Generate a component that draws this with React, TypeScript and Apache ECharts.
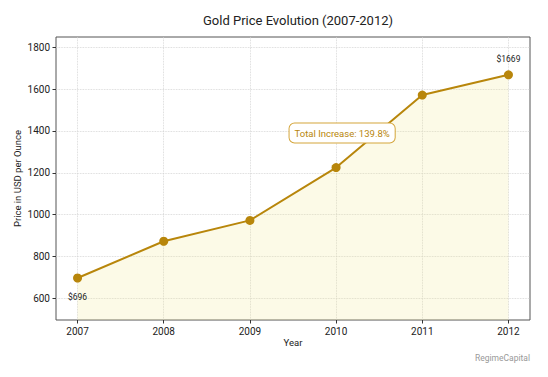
import React, { useEffect, useRef } from "react";
import * as echarts from "echarts";

const years = [2007, 2008, 2009, 2010, 2011, 2012];
const prices = [696, 872, 972, 1225, 1572, 1669];
const yTickValues = [600, 800, 1000, 1200, 1400, 1600, 1800];
const titleText = "Gold Price Evolution (2007-2012)";
const xName = "Year";
const yName = "Price in USD per Ounce";
const annotationText = "Total Increase: 139.8%";
const annotationAt = [2010.07, 1390];
const watermark = "RegimeCapital";

const GOLD = "#b8860b";
const FONT = "Roboto, 'Noto Sans', sans-serif";

export default function App() {
  const ref = useRef<HTMLDivElement>(null);
  useEffect(() => {
    if (!ref.current) return;
    const chart = echarts.init(ref.current, undefined, { renderer: "svg" });
    const lastIdx = years.length - 1;
    const data = years.map((y, i) => {
      const item: any = { value: [y, prices[i]] };
      if (i === 0) {
        item.label = { show: true, position: "bottom", distance: 10, formatter: "$" + prices[i] };
      } else if (i === lastIdx) {
        item.label = { show: true, position: "top", distance: 7, formatter: "$" + prices[i] };
      }
      return item;
    });
    chart.setOption({
      animation: false,
      textStyle: { fontFamily: FONT },
      title: {
        text: titleText,
        left: 293,
        textAlign: "center",
        top: 9,
        textStyle: { fontSize: 13, fontWeight: "normal", color: "#222", fontFamily: FONT },
      },
      graphic: [
        {
          type: "text",
          right: 18,
          top: 353,
          style: { text: watermark, fontSize: 8.5, fill: "#999", fontFamily: FONT },
        },
      ],
      grid: {
        left: 56,
        right: 18,
        top: 37,
        bottom: 57,
        show: true,
        borderColor: "#555",
        borderWidth: 1,
        backgroundColor: "transparent",
      },
      xAxis: {
        type: "value",
        min: 2006.75,
        max: 2012.25,
        minInterval: 1,
        maxInterval: 1,
        name: xName,
        nameLocation: "middle",
        nameGap: 17,
        nameMoveOverlap: false,
        nameTextStyle: { fontSize: 9.5, color: "#222" },
        axisLine: { show: false },
        axisTick: { show: true, length: 3.5, lineStyle: { color: "#333" }, customValues: years },
        axisLabel: {
          fontSize: 10,
          color: "#222",
          margin: 6,
          customValues: years,
          formatter: (v: number) => String(v),
        },
        splitLine: { show: true, lineStyle: { type: "dotted", color: "#d0d0d0", width: 0.8 } },
      },
      yAxis: {
        type: "value",
        min: 495,
        max: 1850,
        minInterval: 200,
        maxInterval: 200,
        name: yName,
        nameLocation: "middle",
        nameGap: 34,
        nameMoveOverlap: false,
        nameTextStyle: { fontSize: 9.5, color: "#222" },
        axisLine: { show: false },
        axisTick: { show: true, length: 3.5, lineStyle: { color: "#333" }, customValues: yTickValues },
        axisLabel: {
          fontSize: 10,
          color: "#222",
          margin: 6,
          customValues: yTickValues,
          formatter: (v: number) => String(v),
        },
        splitLine: { show: true, lineStyle: { type: "dotted", color: "#d0d0d0", width: 0.8 } },
      },
      series: [
        {
          type: "line",
          data,
          symbol: "circle",
          symbolSize: 9,
          itemStyle: { color: GOLD },
          lineStyle: { color: GOLD, width: 2 },
          areaStyle: { color: "rgba(240,230,140,0.3)", origin: "start" },
          label: { show: false, fontSize: 8.5, color: "#222", fontFamily: FONT },
          markPoint: {
            symbol: "rect",
            symbolSize: 1,
            itemStyle: { color: "transparent" },
            label: {
              show: true,
              position: "inside",
              formatter: annotationText,
              fontSize: 9.5,
              color: GOLD,
              backgroundColor: "#fff",
              borderColor: "#d4a53a",
              borderWidth: 1,
              borderRadius: 5,
              padding: [5, 5, 4, 5],
              fontFamily: FONT,
            },
            data: [{ coord: annotationAt }],
          },
        },
      ],
    });
    return () => chart.dispose();
  }, []);
  return (
    <div
      ref={ref}
      style={{ position: "absolute", left: 0, top: 0, width: 548, height: 377 }}
    />
  );
}
